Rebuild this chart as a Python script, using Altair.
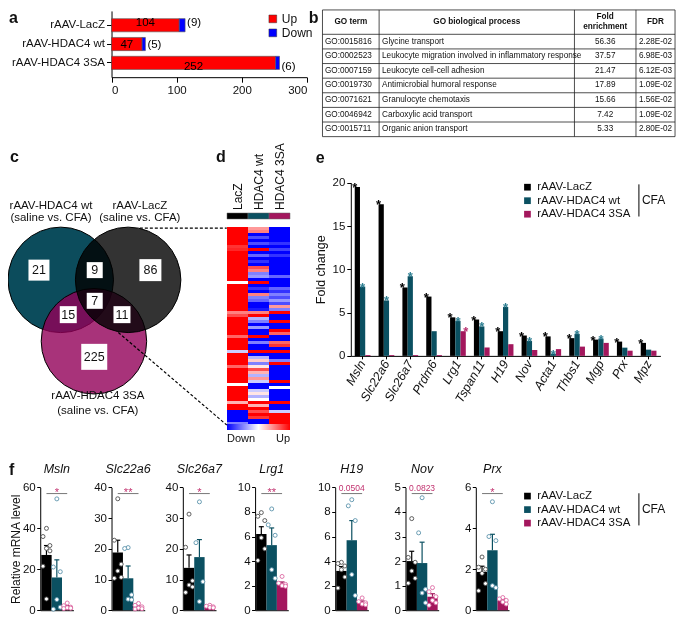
import altair as alt
import pandas as pd

W, H = 669, 610
SX, SY = 669 / 685, 610 / 626


def X(v):
    return v * SX


def Y(v):
    return v * SY


FONT = "Liberation Sans"

GROUPS = ["rAAV-LacZ", "rAAV-HDAC4 wt", "rAAV-HDAC4 3SA"]
GROUP_COLORS = ["#000000", "#0b5061", "#a3175d"]
STAR_COLORS = ["#000000", "#2e7f92", "#b8306f"]
POINT_COLORS = ["#4d4d4d", "#5b93ab", "#dc6aa3"]

# ---------------- data: panel a ----------------
a_up = [104, 47, 252]
a_down = [9, 5, 6]

# ---------------- data: panel b ----------------
go_terms = ["GO:0015816", "GO:0002523", "GO:0007159", "GO:0019730",
            "GO:0071621", "GO:0046942", "GO:0015711"]
go_process = ["Glycine transport",
              "Leukocyte migration involved in inflammatory response",
              "Leukocyte cell-cell adhesion",
              "Antimicrobial humoral response",
              "Granulocyte chemotaxis",
              "Carboxylic acid transport",
              "Organic anion transport"]
go_fold = [56.36, 37.57, 21.47, 17.89, 15.66, 7.42, 5.33]
go_fdr = ["2.28E-02", "6.98E-03", "6.12E-03", "1.09E-02",
          "1.56E-02", "1.09E-02", "2.80E-02"]

# ---------------- data: panel c ----------------
venn_names = ["rAAV-HDAC4 wt", "rAAV-LacZ", "rAAV-HDAC4 3SA"]
venn_counts = [21, 9, 86, 7, 15, 11, 225]

# ---------------- data: panel d ----------------
hm_cols = ["LacZ", "HDAC4 wt", "HDAC4 3SA"]
hm_lacz = [1, 1, 1, 1, 1, 1, 0.8, 0.85, 1, 1,
           1, 1, 1, 1, 1, 1, 1, 1, 0, 1,
           1, 1, 1, 1, 1, 1, 1, 1, 0.5, 0.7,
           1, 1, 1, 1, 1, 1, 0.6, 1, 1, 1,
           1, -0.2, 1, 1, 1, 1, 0.6, 1, 1, 1,
           1, 1, 0, 1, 1, 1, 1, 1, 0.3, 1,
           1, -1, -1, -1, -1, -0.5]
hm_wt = [0.4, 0.5, -1, -0.7, -1, -0.7, -1, 1, -1, -0.6,
         -1, -0.8, -1, 0.7, 0.5, -0.5, -0.4, -1, 1, -1,
         -0.8, -1, 0.5, -0.5, -0.6, -1, -1, -0.9, 0.5, 1,
         -0.3, -0.5, -1, -0.4, -1, -1, 1, -1, -0.5, -1,
         -1, 1, -1, -0.3, 0.2, -0.5, 0.1, 0.7, 0.3, -0.3,
         0.4, -0.2, -1, -1, -0.2, 0.1, -0.3, 0, 1, 0.3,
         1, 0.7, 1, 0.8, -1, -1]
hm_3sa = [-1, -1, -1, -1, -1, -0.8, -1, -0.75, -1, -0.8,
          -1, -1, -1, -1, -1, -1, -0.6, -1, -1, -1,
          -0.6, -0.8, -0.5, -0.7, -0.4, -0.7, 0.4, -0.5, 1, -1,
          -1, 1, -1, -1, 1, 0.6, -1, -1, 0.6, 0.8,
          -1, 1, -1, -1, -0.5, 1, -1, -1, -1, -1,
          -1, 1, -1, 0, -1, -1, -1, -1, 1, -1,
          -1, -0.2, 1, 1, 1, 1]

# ---------------- data: panel e ----------------
e_genes = ["Msln", "Slc22a6", "Slc26a7", "Prdm6", "Lrg1", "Tspan11", "H19",
           "Nov", "Acta1", "Thbs1", "Mgp", "Prx", "Mpz"]
e_lacz = [19.5, 17.5, 7.9, 6.85, 4.45, 4.2, 2.85, 2.35, 2.25, 2.05, 1.88, 1.65, 1.5]
e_wt = [8.0, 6.4, 9.2, 2.85, 4.05, 3.4, 5.65, 1.73, 0.25, 2.55, 2.0, 0.95, 0.72]
e_3sa = [0.1, 0.1, 0.1, 0.1, 2.85, 0.97, 1.35, 0.68, 0.78, 1.07, 1.5, 0.6, 0.6]
e_star_lacz = [1, 1, 1, 1, 1, 1, 1, 1, 1, 1, 1, 1, 1]
e_star_wt = [1, 1, 1, 0, 1, 1, 1, 1, 1, 1, 1, 0, 0]
e_star_3sa = [0, 0, 0, 0, 1, 0, 0, 0, 0, 0, 0, 0, 0]

# ---------------- data: panel f ----------------
f_genes = ["Msln", "Slc22a6", "Slc26a7", "Lrg1", "H19", "Nov", "Prx"]
f_ticks = [[0, 20, 40, 60], [0, 10, 20, 30, 40], [0, 10, 20, 30, 40],
           [0, 2, 4, 6, 8, 10], [0, 2, 4, 6, 8, 10], [0, 1, 2, 3, 4, 5], [0, 2, 4, 6]]
f_mean_lacz = [27.0, 18.8, 13.8, 6.2, 3.2, 2.0, 1.87]
f_mean_wt = [16.0, 10.4, 17.3, 5.3, 5.7, 1.92, 2.93]
f_mean_3sa = [1.7, 1.1, 1.15, 2.17, 0.65, 0.55, 0.47]
f_sem_lacz = [4.6, 4.0, 4.2, 0.6, 0.35, 0.4, 0.28]
f_sem_wt = [8.6, 4.0, 5.7, 1.4, 1.6, 0.85, 0.78]
f_sem_3sa = [0.5, 0.3, 0.2, 0.13, 0.1, 0.12, 0.08]
f_pts_lacz = [[40, 36, 31.6, 30.2, 29, 21.5, 5.5], [36.3, 22.8, 15, 12.8, 10.7, 10.4],
              [31.3, 20.5, 9.6, 8.2, 7.6, 5.8], [7.95, 7.65, 7.3, 5.9, 5.0, 4.05],
              [3.9, 3.8, 3.6, 3.3, 2.7, 1.8], [3.73, 2.15, 1.95, 1.6, 1.3, 1.1],
              [2.6, 2.1, 2.0, 1.8, 1.3, 0.95]]
f_pts_wt = [[54.4, 21.1, 18.8, 5.2, 1.5, 0.5], [20.4, 20.1, 5, 3.6, 3.4],
            [35.3, 22, 9.3, 2.8], [8.25, 6.95, 6.1, 3.3, 2.6],
            [9.0, 8.5, 7.3, 2.9, 1.2], [4.58, 3.15, 0.85, 0.7, 0.3],
            [5.3, 3.6, 3.4, 1.2, 1.1]]
f_pts_3sa = [[3.5, 2.2, 1.5, 1.2, 1.0, 0.8], [2.2, 1.6, 1.1, 0.7, 0.5, 0.4],
             [1.6, 1.3, 1.1, 0.9, 0.8], [2.75, 2.2, 2.1, 2.0, 1.95],
             [1.0, 0.7, 0.6, 0.5, 0.45], [0.92, 0.75, 0.55, 0.4, 0.3, 0.2],
             [0.62, 0.55, 0.48, 0.4, 0.3]]
f_sig = ["*", "**", "*", "**", "0.0504", "0.0823", "*"]

# ---------------- layout constants (pixels of the reference figure) ----------------
F_AXIS_X = [33, 106, 179, 253, 335, 407, 479]
F_W = 34
F_TOP, F_BOT = 492, 618
JITTER = [1, 0, 2, 1, 2, 0, 1]
SIG_FRAC = 0.95
HM_TOP, HM_ROW = 219, 3   # heat-map rows on whole pixels (chart coordinates)

units = []

# ====================== panel a ======================
rows = []
for g, u, d in zip(GROUPS, a_up, a_down):
    rows.append({"group": g, "kind": "Up", "start": 0, "end": u, "pos": u / 2, "label": str(u)})
    rows.append({"group": g, "kind": "Down", "start": u, "end": u + d, "pos": u + d, "label": f"({d})"})
df_a = pd.DataFrame(rows)

a_xs = alt.Scale(domain=[0, 300], range=[X(106), X(306)], nice=False, zero=False)
a_ys = alt.Scale(domain=GROUPS, range=[Y(3), Y(71)], paddingInner=0.3, paddingOuter=0.41)

units.append(alt.Chart(df_a).mark_bar(stroke="#555555", strokeWidth=0.6).encode(
    x=alt.X("start:Q", scale=a_xs,
            axis=alt.Axis(orient="bottom", offset=Y(71) - H, values=[0, 100, 200, 300],
                          tickSize=5, labelFontSize=11.5, labelPadding=2, title=None)),
    x2="end:Q",
    y=alt.Y("group:N", scale=a_ys,
            axis=alt.Axis(orient="left", offset=-X(106), tickSize=5, labelFontSize=11.5,
                          labelPadding=2, title=None)),
    color=alt.Color("kind:N", scale=alt.Scale(domain=["Up", "Down"], range=["#ff0000", "#0000ff"]),
                    legend=alt.Legend(orient="none", legendX=X(265), legendY=Y(5), title=None,
                                      symbolType="square", symbolSize=60, labelFontSize=12,
                                      symbolStrokeColor="#333333", symbolStrokeWidth=0.5,
                                      padding=0, labelOffset=3, rowPadding=2)),
))
units.append(alt.Chart(df_a[df_a.kind == "Up"]).mark_text(fontSize=11.5, color="black", dy=1).encode(
    x=alt.X("pos:Q", scale=a_xs, axis=None), y=alt.Y("group:N", scale=a_ys, axis=None), text="label:N"))
units.append(alt.Chart(df_a[df_a.kind == "Down"]).mark_text(fontSize=11.5, color="black", align="left",
                                                            dx=2, dy=1).encode(
    x=alt.X("pos:Q", scale=a_xs, axis=None), y=alt.Y("group:N", scale=a_ys, axis=None), text="label:N"))

# ====================== panel b ======================
TB_COLS = [0, 58, 258, 321, 361]
TB_HDR = -25 / 15
tb_x = alt.Scale(domain=[0, 361], range=[X(322), X(683)], nice=False, zero=False)
tb_y = alt.Scale(domain=[TB_HDR, 7], range=[Y(2), Y(132)], nice=False, zero=False)

df_h = pd.DataFrame({"y": [TB_HDR] + list(range(8)), "x0": 0, "x1": 361})
df_v = pd.DataFrame({"x": TB_COLS, "y0": TB_HDR, "y1": 7})
units.append(alt.Chart(df_h).mark_rule(color="#222222", strokeWidth=0.8).encode(
    x=alt.X("x0:Q", scale=tb_x, axis=None), x2="x1:Q", y=alt.Y("y:Q", scale=tb_y, axis=None)))
units.append(alt.Chart(df_v).mark_rule(color="#222222", strokeWidth=0.8).encode(
    x=alt.X("x:Q", scale=tb_x, axis=None), y=alt.Y("y0:Q", scale=tb_y, axis=None), y2="y1:Q"))

cells_l, cells_c = [], []
for i in range(len(go_terms)):
    cells_l.append({"x": 2.5, "y": i + 0.5, "t": go_terms[i]})
    cells_l.append({"x": 61, "y": i + 0.5, "t": go_process[i]})
    cells_c.append({"x": 289.5, "y": i + 0.5, "t": f"{go_fold[i]:.2f}"})
    cells_c.append({"x": 341, "y": i + 0.5, "t": go_fdr[i]})
units.append(alt.Chart(pd.DataFrame(cells_l)).mark_text(fontSize=8.2, align="left", baseline="middle", color="#111111").encode(
    x=alt.X("x:Q", scale=tb_x, axis=None), y=alt.Y("y:Q", scale=tb_y, axis=None), text="t:N"))
units.append(alt.Chart(pd.DataFrame(cells_c)).mark_text(fontSize=8.2, align="center", baseline="middle", color="#111111").encode(
    x=alt.X("x:Q", scale=tb_x, axis=None), y=alt.Y("y:Q", scale=tb_y, axis=None), text="t:N"))
hdr = pd.DataFrame({"x": [29, 158, 289.5, 289.5, 341],
                    "y": [TB_HDR / 2, TB_HDR / 2, TB_HDR * 0.72, TB_HDR * 0.28, TB_HDR / 2],
                    "t": ["GO term", "GO biological process", "Fold", "enrichment", "FDR"]})
units.append(alt.Chart(hdr).mark_text(fontSize=8.2, fontWeight="bold", align="center", baseline="middle", color="#111111").encode(
    x=alt.X("x:Q", scale=tb_x, axis=None), y=alt.Y("y:Q", scale=tb_y, axis=None), text="t:N"))

# ====================== panel c ======================
VENN_CX = [54, 123, 88]
VENN_CY = [129, 129, 192]
VENN_SIZE = (108 * SX) ** 2          # symbol size = area of the bounding square
vx = alt.Scale(domain=[0, 230], range=[X(0), X(230)], nice=False, zero=False)
vy = alt.Scale(domain=[0, 300], range=[Y(150), Y(450)], nice=False, zero=False)


def vcirc(i, fill, **extra):
    df = pd.DataFrame({"x": [VENN_CX[i]], "y": [VENN_CY[i]], "name": [venn_names[i]]})
    return alt.Chart(df).mark_circle(size=VENN_SIZE, fill=fill, stroke="black", strokeWidth=1,
                                     opacity=1, **extra).encode(
        x=alt.X("x:Q", scale=vx, axis=None), y=alt.Y("y:Q", scale=vy, axis=None))


units.append(vcirc(0, "#0c4c5c"))
units.append(vcirc(2, "#920059", fillOpacity=0.8))
units.append(vcirc(1, "#333333", blend="multiply"))

BOX_X = [31.7, 88.8, 145.8, 88.8, 61.7, 116.7, 88.3]
BOX_Y = [119, 119, 119, 150.5, 164.7, 164.7, 208]
BOX_S = [21, 16, 22, 16, 17, 17, 26]
df_box = pd.DataFrame({"x": BOX_X, "y": BOX_Y, "s": [b * b for b in BOX_S],
                       "n": [str(v) for v in venn_counts]})
units.append(alt.Chart(df_box).mark_square(fill="white", opacity=1).encode(
    x=alt.X("x:Q", scale=vx, axis=None), y=alt.Y("y:Q", scale=vy, axis=None),
    size=alt.Size("s:Q", scale=None, legend=None)))
units.append(alt.Chart(df_box).mark_text(fontSize=12.5, color="#111111", baseline="middle").encode(
    x=alt.X("x:Q", scale=vx, axis=None), y=alt.Y("y:Q", scale=vy, axis=None), text="n:N"))

df_vl = pd.DataFrame({
    "x": [44, 44, 135, 135, 92, 92],
    "y": [53, 65, 53, 65, 248, 264],
    "t": [venn_names[0], "(saline vs. CFA)", venn_names[1], "(saline vs. CFA)",
          venn_names[2], "(saline vs. CFA)"]})
units.append(alt.Chart(df_vl).mark_text(fontSize=11.5, color="#111111", baseline="middle").encode(
    x=alt.X("x:Q", scale=vx, axis=None), y=alt.Y("y:Q", scale=vy, axis=None), text="t:N"))
df_dash = pd.DataFrame({"x": [135, 113], "y": [76, 183], "x2": [224, 224], "y2": [76, 278]})
units.append(alt.Chart(df_dash).mark_rule(color="black", strokeWidth=1.2, strokeDash=[3, 2]).encode(
    x=alt.X("x:Q", scale=vx, axis=None), y=alt.Y("y:Q", scale=vy, axis=None), x2="x2:Q", y2="y2:Q"))

# ====================== panel d ======================
hm_rows = []
for col, vals in zip(hm_cols, [hm_lacz, hm_wt, hm_3sa]):
    for k, v in enumerate(vals):
        hm_rows.append({"col": col, "row": k, "row_end": k + 1, "v": v})
df_hm = pd.DataFrame(hm_rows)
N_ROWS = len(hm_lacz)
hx = alt.Scale(domain=hm_cols, range=[219, 282], paddingInner=0, paddingOuter=0)
hy = alt.Scale(domain=[0, N_ROWS], range=[HM_TOP, HM_TOP + HM_ROW * N_ROWS], nice=False, zero=False)
units.append(alt.Chart(df_hm).mark_rect().encode(
    x=alt.X("col:N", scale=hx, axis=None),
    y=alt.Y("row:Q", scale=hy, axis=None), y2="row_end:Q",
    color=alt.Color("v:Q", scale=alt.Scale(domain=[-1, 0, 1], range=["#0000ff", "#ffffff", "#ff0000"],
                                           interpolate="rgb"),
                    legend=alt.Legend(orient="none", direction="horizontal", legendX=219, legendY=Y(427),
                                      gradientLength=63, gradientThickness=6, title=None,
                                      values=[-1, 1], labelFontSize=11, gradientStrokeWidth=0,
                                      labelExpr="datum.value < 0 ? 'Down' : 'Up'", padding=0,
                                      labelOffset=3))))
df_strip = pd.DataFrame({"col": hm_cols, "y0": -4.67, "y1": -2.67, "ylab": -5.67})
units.append(alt.Chart(df_strip).mark_rect(stroke="#666666", strokeWidth=0.5).encode(
    x=alt.X("col:N", scale=hx, axis=None), y=alt.Y("y0:Q", scale=hy, axis=None), y2="y1:Q",
    fill=alt.Fill("col:N", scale=alt.Scale(domain=hm_cols, range=GROUP_COLORS), legend=None)))
units.append(alt.Chart(df_strip).mark_text(angle=270, align="left", baseline="middle", fontSize=12,
                                           color="#111111").encode(
    x=alt.X("col:N", scale=hx, axis=None), y=alt.Y("ylab:Q", scale=hy, axis=None), text="col:N"))

# ====================== panel e ======================
e_rows = []
for gi, (vals, stars) in enumerate([(e_lacz, e_star_lacz), (e_wt, e_star_wt), (e_3sa, e_star_3sa)]):
    for gene, v, s in zip(e_genes, vals, stars):
        e_rows.append({"gene": gene, "group": GROUPS[gi], "value": v, "star": s})
df_e = pd.DataFrame(e_rows)

e_xs = alt.Scale(domain=e_genes, range=[X(351), X(668)], paddingInner=0.34, paddingOuter=0.165)
e_ys = alt.Scale(domain=[0, 20], range=[Y(357), Y(179.3)], nice=False, zero=False)


def e_xo():
    return alt.Scale(domain=GROUPS, paddingInner=0, paddingOuter=0)


grp_legend = dict(orient="none", title=None, symbolType="square", symbolSize=45,
                  labelFontSize=11.5, padding=0, rowPadding=0.5, labelOffset=4, symbolStrokeWidth=0)

units.append(alt.Chart(df_e).mark_bar().encode(
    x=alt.X("gene:N", scale=e_xs,
            axis=alt.Axis(orient="bottom", offset=Y(357) - H, labelAngle=-60, labelFontStyle="italic",
                          labelFontSize=12.5, tickSize=3, labelPadding=2, title=None)),
    xOffset=alt.XOffset("group:N", scale=e_xo()),
    y=alt.Y("value:Q", scale=e_ys,
            axis=alt.Axis(orient="left", offset=-X(351), values=[0, 5, 10, 15, 20], tickSize=4,
                          labelFontSize=11.5, labelPadding=2, title="Fold change", titleFontSize=12.5,
                          titleFontWeight="normal", titlePadding=5)),
    color=alt.Color("group:N", scale=alt.Scale(domain=GROUPS, range=GROUP_COLORS),
                    legend=alt.Legend(legendX=X(526), legendY=Y(178), **grp_legend)),
))
units.append(alt.Chart(df_e[df_e.star == 1]).mark_text(text="*", fontSize=13, fontWeight="bold", dy=1).encode(
    x=alt.X("gene:N", scale=e_xs, axis=None), xOffset=alt.XOffset("group:N", scale=e_xo()),
    y=alt.Y("value:Q", scale=e_ys, axis=None),
    fill=alt.Fill("group:N", scale=alt.Scale(domain=GROUPS, range=STAR_COLORS), legend=None)))

# ====================== panel f ======================
means = [f_mean_lacz, f_mean_wt, f_mean_3sa]
sems = [f_sem_lacz, f_sem_wt, f_sem_3sa]
pts = [f_pts_lacz, f_pts_wt, f_pts_3sa]

for i in range(len(f_genes)):
    x0 = F_AXIS_X[i]
    ymax = f_ticks[i][-1]
    xs = alt.Scale(domain=GROUPS, range=[X(x0), X(x0 + F_W)], paddingInner=0, paddingOuter=0.1)
    ys = alt.Scale(domain=[0, ymax], range=[Y(F_BOT), Y(F_TOP)], nice=False, zero=False)

    def cs():
        return alt.Scale(domain=GROUPS, range=GROUP_COLORS)

    df_bar = pd.DataFrame({"group": GROUPS,
                           "mean": [means[g][i] for g in range(3)],
                           "top": [means[g][i] + sems[g][i] for g in range(3)]})
    prow = []
    for g in range(3):
        for k, v in enumerate(pts[g][i]):
            prow.append({"group": GROUPS[g], "v": v, "jit": JITTER[k % len(JITTER)]})
    df_pt = pd.DataFrame(prow)
    df_sig = pd.DataFrame({"a": [GROUPS[0]], "b": [GROUPS[2]], "mid": [GROUPS[1]],
                           "y": [SIG_FRAC * ymax], "ymax": [ymax], "label": [f_sig[i]],
                           "gene": [f_genes[i]]})
    leg = alt.Legend(legendX=X(526), legendY=Y(495), **grp_legend) if i == len(f_genes) - 1 else None
    units.append(alt.Chart(df_bar).mark_bar().encode(
        x=alt.X("group:N", scale=xs,
                axis=alt.Axis(orient="bottom", offset=Y(F_BOT) - H, labels=False, ticks=False, title=None)),
        y=alt.Y("mean:Q", scale=ys,
                axis=alt.Axis(orient="left", offset=-X(x0), values=f_ticks[i], tickSize=3.5,
                              labelFontSize=11.5, labelPadding=1.5,
                              title=("Relative mRNA level" if i == 0 else None),
                              titleFontSize=12, titleFontWeight="normal", titlePadding=0)),
        color=alt.Color("group:N", scale=cs(), legend=leg)))
    units.append(alt.Chart(df_bar).mark_rule(strokeWidth=1.2).encode(
        x=alt.X("group:N", scale=xs, axis=None), y=alt.Y("mean:Q", scale=ys, axis=None), y2="top:Q",
        color=alt.Color("group:N", scale=cs(), legend=None)))
    units.append(alt.Chart(df_bar).mark_tick(thickness=1.2, size=5, orient="horizontal", opacity=1).encode(
        x=alt.X("group:N", scale=xs, axis=None), y=alt.Y("top:Q", scale=ys, axis=None),
        color=alt.Color("group:N", scale=cs(), legend=None)))
    units.append(alt.Chart(df_pt).mark_circle(fill="white", opacity=1, size=16, strokeWidth=0.9).encode(
        x=alt.X("group:N", scale=xs, axis=None),
        xOffset=alt.XOffset("jit:N", scale=alt.Scale(domain=[0, 1, 2])),
        y=alt.Y("v:Q", scale=ys, axis=None),
        stroke=alt.Stroke("group:N", scale=alt.Scale(domain=GROUPS, range=POINT_COLORS), legend=None)))
    units.append(alt.Chart(df_sig).mark_rule(color="#555555", strokeWidth=0.8).encode(
        x=alt.X("a:N", scale=xs, axis=None), x2="b:N", y=alt.Y("y:Q", scale=ys, axis=None)))
    is_star = "*" in f_sig[i]
    units.append(alt.Chart(df_sig).mark_text(color="#c2326f", fontSize=(11 if is_star else 8.5),
                                             dy=(2 if is_star else -3), baseline="alphabetic").encode(
        x=alt.X("mid:N", scale=xs, axis=None), y=alt.Y("y:Q", scale=ys, axis=None), text="label:N"))
    units.append(alt.Chart(df_sig).mark_text(fontStyle="italic", fontSize=12.5, baseline="middle", dy=-18,
                                             color="#111111").encode(
        x=alt.X("mid:N", scale=xs, axis=None), y=alt.Y("ymax:Q", scale=ys, axis=None), text="gene:N"))

# ====================== annotations ======================
one = pd.DataFrame({"k": [0]})
for letter, lx, ly in [("a", 1, 10), ("b", 308, 10), ("c", 2, 153), ("d", 213, 153), ("e", 315, 154), ("f", 1, 474)]:
    units.append(alt.Chart(one).mark_text(fontSize=16, fontWeight="bold", align="left", baseline="middle",
                                          color="#111111").encode(
        x=alt.value(X(lx)), y=alt.value(Y(ly)), text=alt.value(letter)))
for (bx, by0, by1, ty) in [(646, 181, 214, 197), (646, 498, 531, 514)]:
    units.append(alt.Chart(one).mark_rule(color="black", strokeWidth=1).encode(
        x=alt.value(X(bx)), y=alt.value(Y(by0)), y2=alt.value(Y(by1))))
    units.append(alt.Chart(one).mark_text(fontSize=12, align="left", baseline="middle", color="#111111").encode(
        x=alt.value(X(bx) + 3), y=alt.value(Y(ty)), text=alt.value("CFA")))

chart = alt.layer(*units).resolve_scale(
    x="independent", y="independent", color="independent", fill="independent",
    stroke="independent", xOffset="independent", size="independent"
).resolve_axis(x="independent", y="independent").resolve_legend(
    color="independent", fill="independent", stroke="independent", size="independent"
).properties(width=W, height=H, autosize=alt.AutoSizeParams(type="none"), padding=0)

chart = chart.configure(font=FONT).configure_view(stroke=None).configure_axis(
    grid=False, domainColor="black", tickColor="black", labelColor="#111111", titleColor="#111111",
    labelFont=FONT, titleFont=FONT, domainWidth=1, tickWidth=1
).configure_legend(labelFont=FONT, labelColor="#111111")

chart.save("out.html", embed_options={"renderer": "svg", "actions": False})
